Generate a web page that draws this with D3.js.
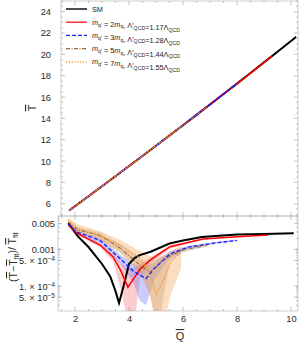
<!DOCTYPE html>
<html>
<head>
<meta charset="utf-8">
<script src="https://cdn.jsdelivr.net/npm/d3@7"></script>
<style>
  body { margin: 0; background: #fff; }
  svg { display: block; font-family: "Liberation Sans", Arial, sans-serif; }
</style>
</head>
<body>
<svg id="chart" width="300" height="345"></svg>
<script>
// ---- data ----
// upper panel: T-bar vs Q-bar (all curves lie on top of each other)
const qTop = [1.78, 2, 2.5, 3, 3.5, 4, 4.5, 5, 5.5, 6, 6.5, 7, 7.5, 8, 8.5, 9, 9.5, 10, 10.2];
const tTop = [5.36, 5.77, 6.70, 7.64, 8.58, 9.53, 10.48, 11.43, 12.39, 13.36, 14.33, 15.30, 16.28, 17.26, 18.25, 19.25, 20.24, 21.25, 21.65];
// where each series stops on the Q axis
const qEnd = [10.2, 9.3, 8.0, 6.9, 5.95];

// legend
const massRatio = ["2", "3", "5", "7"];
const lambdaRatio = ["1.17", "1.28", "1.44", "1.55"];

// lower panel: relative deviation from fit
const qSM = [1.75, 2.1, 2.5, 3.0, 3.3, 3.5, 3.63, 3.8, 4.0, 4.2, 4.4, 4.8, 5.5, 6.0, 6.7, 8.0, 9.0, 10.1];
const rSM = [5.2e-3, 2.3e-3, 1.16e-3, 4.0e-4, 1.87e-4, 7.3e-5, 3.45e-5, 1.0e-4, 4.0e-4, 5.8e-4, 7.0e-4, 8.6e-4, 1.44e-3, 1.74e-3, 2.16e-3, 2.53e-3, 2.64e-3, 2.73e-3];

const q2 = [1.75, 2.07, 2.5, 2.93, 3.41, 3.7, 3.96, 4.2, 4.41, 4.78, 5.52, 6.74, 8.0, 9.15];
const r2 = [4.6e-3, 2.78e-3, 1.9e-3, 1.31e-3, 6.2e-4, 2.6e-4, 9.4e-5, 1.7e-4, 2.9e-4, 5.1e-4, 1.18e-3, 1.91e-3, 2.2e-3, 2.45e-3];
const hi2 = [5.0e-3, 3.1e-3, 2.15e-3, 1.5e-3, 7.5e-4, 4.2e-4, 3.0e-4, 3.2e-4, 4.0e-4, 6.0e-4, 1.3e-3, 1.98e-3, 2.26e-3, 2.5e-3];
const lo2 = [4.2e-3, 2.5e-3, 1.7e-3, 1.12e-3, 4.6e-4, 8e-5, 1e-5, 1e-5, 1.6e-4, 4.0e-4, 1.06e-3, 1.84e-3, 2.14e-3, 2.4e-3];

const q3 = [1.75, 2.05, 2.5, 2.93, 3.67, 4.15, 4.4, 4.63, 4.93, 5.52, 6.2, 7.2, 8.0];
const r3 = [4.9e-3, 3.0e-3, 2.3e-3, 1.75e-3, 5.6e-4, 2.6e-4, 2.0e-4, 1.6e-4, 3.0e-4, 7.5e-4, 1.15e-3, 1.5e-3, 1.75e-3];
const hi3 = [5.4e-3, 3.4e-3, 2.6e-3, 2.1e-3, 7.2e-4, 4.0e-4, 3.4e-4, 3.4e-4, 4.6e-4, 9.0e-4, 1.25e-3, 1.58e-3, 1.82e-3];
const lo3 = [4.4e-3, 2.6e-3, 1.9e-3, 1.45e-3, 4.2e-4, 1.3e-4, 4e-5, 3e-5, 1.5e-4, 6.0e-4, 1.05e-3, 1.42e-3, 1.68e-3];

const q5 = [1.75, 2.1, 2.5, 2.93, 3.67, 4.41, 4.78, 5.0, 5.15, 5.52, 6.0, 6.9];
const r5 = [5.5e-3, 3.4e-3, 2.9e-3, 2.4e-3, 1.08e-3, 3.7e-4, 2.4e-4, 3.2e-4, 4.5e-4, 6.6e-4, 9.6e-4, 1.31e-3];
const hi5 = [6.1e-3, 4.0e-3, 3.4e-3, 2.9e-3, 1.4e-3, 5.2e-4, 3.8e-4, 4.4e-4, 5.8e-4, 8.0e-4, 1.1e-3, 1.42e-3];
const lo5 = [4.9e-3, 2.9e-3, 2.4e-3, 1.95e-3, 8.0e-4, 2.3e-4, 6e-5, 1e-5, 1.5e-5, 5.0e-4, 8.3e-4, 1.2e-3];

const q7 = [1.75, 2.1, 2.5, 2.93, 3.67, 4.41, 4.78, 5.0, 5.3, 5.55, 5.93];
const r7 = [6.3e-3, 3.8e-3, 3.0e-3, 2.3e-3, 1.31e-3, 5.8e-4, 2.3e-4, 5.7e-5, 1.6e-4, 4.6e-4, 8.6e-4];
const hi7 = [7.2e-3, 4.8e-3, 3.9e-3, 3.1e-3, 1.8e-3, 9.0e-4, 6.5e-4, 5.8e-4, 7.0e-4, 9.0e-4, 1.25e-3];
const lo7 = [5.5e-3, 3.0e-3, 2.3e-3, 1.7e-3, 8.5e-4, 2.6e-4, 5e-5, 1e-5, 1e-5, 6e-5, 3.0e-4];

// tick labels
const xTicks = [2, 4, 6, 8, 10];
const yTopTicks = [6, 8, 10, 12, 14, 16, 18, 20, 22, 24];
const yBotTicks = [5e-3, 1e-3, 5e-4, 1e-4, 5e-5];

// ---- styles ----
const colors = ["#000000", "#ff0000", "#1f1fff", "#9a6a3a", "#ff8a1c"];
const bandColors = ["none", "rgba(245,110,120,0.35)", "rgba(110,110,245,0.35)", "rgba(175,150,120,0.35)", "rgba(245,170,100,0.4)"];
const dashes = [null, null, "4,2", "4,1.5,1,1.5", "1.2,1.6"];
const widthsTop = [2, 1.6, 1.6, 1.4, 1.4];
const widthsBot = [2, 1.5, 1.4, 1.1, 1.2];

const topPanel = { left: 61, right: 298, top: 1, bottom: 216 };
const botPanel = { left: 58, right: 298, top: 216, bottom: 311 };

const svg = d3.select("#chart");

const x = d3.scaleLinear().domain([2, 10]).range([75, 291]);
const yTop = d3.scaleLinear().domain([4.85, 25]).range([216, 1]);
const yBot = d3.scaleLog().domain([2.1e-5, 8.1e-3]).range([311, 216]);

const frameColor = "#c4c4c4";
const tickColor = "#9a9a9a";

// clip paths
const defs = svg.append("defs");
defs.append("clipPath").attr("id", "clipTop").append("rect")
  .attr("x", topPanel.left).attr("y", topPanel.top)
  .attr("width", topPanel.right - topPanel.left).attr("height", topPanel.bottom - topPanel.top);
defs.append("clipPath").attr("id", "clipBot").append("rect")
  .attr("x", botPanel.left).attr("y", botPanel.top)
  .attr("width", botPanel.right - botPanel.left).attr("height", botPanel.bottom - botPanel.top);
qEnd.forEach((q, i) => {
  defs.append("clipPath").attr("id", "end" + i).append("rect")
    .attr("x", topPanel.left).attr("y", topPanel.top)
    .attr("width", x(q) - topPanel.left).attr("height", topPanel.bottom - topPanel.top);
});

// inward ticks on every side of a panel
function sideTicks(panel, xVals, xLen, yVals, yScale, yLen) {
  const g = svg.append("g").attr("stroke", tickColor).attr("stroke-width", 0.6);
  xVals.forEach(v => {
    const p = x(v);
    if (p < panel.left || p > panel.right) return;
    g.append("line").attr("x1", p).attr("x2", p).attr("y1", panel.bottom).attr("y2", panel.bottom - xLen);
    g.append("line").attr("x1", p).attr("x2", p).attr("y1", panel.top).attr("y2", panel.top + xLen);
  });
  yVals.forEach(v => {
    const p = yScale(v);
    if (p < panel.top || p > panel.bottom) return;
    g.append("line").attr("x1", panel.left).attr("x2", panel.left + yLen).attr("y1", p).attr("y2", p);
    g.append("line").attr("x1", panel.right).attr("x2", panel.right - yLen).attr("y1", p).attr("y2", p);
  });
}

const xMinor = d3.range(1.5, 10.01, 0.5).filter(v => v % 2 !== 0);
const yTopMinor = d3.range(5, 25.01, 0.5).filter(v => v % 2 !== 0);
const yBotMinor = [];
[1e-5, 1e-4, 1e-3].forEach(d => { for (let k = 1; k <= 9; k++) yBotMinor.push(k * d); });

// frames
[topPanel, botPanel].forEach(p => {
  svg.append("rect")
    .attr("x", p.left).attr("y", p.top)
    .attr("width", p.right - p.left).attr("height", p.bottom - p.top)
    .attr("fill", "none").attr("stroke", frameColor).attr("stroke-width", 0.8);
});

sideTicks(topPanel, xMinor, 2, yTopMinor, yTop, 2);
sideTicks(topPanel, xTicks, 4, yTopTicks, yTop, 4);
sideTicks(botPanel, xMinor, 2, yBotMinor, yBot, 2);
sideTicks(botPanel, xTicks, 4, yBotTicks, yBot, 4);

// ---- upper panel ----
const lineTop = d3.line().x((d, i) => x(qTop[i])).y(d => d);
const topG = svg.append("g").attr("clip-path", "url(#clipTop)");
qEnd.forEach((q, i) => {
  topG.append("g").attr("clip-path", `url(#end${i})`)
    .append("path")
    .datum(tTop.map(t => yTop(t)))
    .attr("fill", "none")
    .attr("stroke", colors[i])
    .attr("stroke-width", widthsTop[i])
    .attr("stroke-dasharray", dashes[i])
    .attr("d", lineTop);
});

// ---- lower panel ----
const botQ = [qSM, q2, q3, q5, q7];
const botR = [rSM, r2, r3, r5, r7];
const botHi = [null, hi2, hi3, hi5, hi7];
const botLo = [null, lo2, lo3, lo5, lo7];

const botG = svg.append("g").attr("clip-path", "url(#clipBot)");

botQ.forEach((qs, i) => {
  if (!botHi[i]) return;
  const band = qs.map((q, k) => ({ q: q, lo: botLo[i][k], hi: botHi[i][k] }));
  botG.append("path")
    .datum(band)
    .attr("fill", bandColors[i])
    .attr("stroke", "none")
    .attr("d", d3.area()
      .x(d => x(d.q))
      .y0(d => yBot(d.lo))
      .y1(d => yBot(d.hi)));
});

botQ.forEach((qs, i) => {
  const pts = qs.map((q, k) => ({ q: q, r: botR[i][k] }));
  botG.append("path")
    .datum(pts)
    .attr("fill", "none")
    .attr("stroke", colors[i])
    .attr("stroke-width", widthsBot[i])
    .attr("stroke-dasharray", dashes[i])
    .attr("stroke-linejoin", "miter")
    .attr("d", d3.line().x(d => x(d.q)).y(d => yBot(d.r)));
});

// ---- axes with labels ----
const labelColor = "#2a2a2a";
const fs = 9.3;

const axTop = svg.append("g")
  .attr("transform", `translate(${topPanel.left},0)`)
  .call(d3.axisLeft(yTop).tickValues(yTopTicks).tickSize(0).tickPadding(10));
axTop.select(".domain").remove();
axTop.selectAll("text").attr("fill", labelColor).style("font-size", fs + "px").style("font-family", "Liberation Sans, Arial, sans-serif");

const axBotY = svg.append("g")
  .attr("transform", `translate(${botPanel.left},0)`)
  .call(d3.axisLeft(yBot).tickValues(yBotTicks).tickSize(0).tickPadding(3).tickFormat(""));
axBotY.select(".domain").remove();
axBotY.selectAll(".tick text").each(function (d) {
  const t = d3.select(this)
    .attr("fill", labelColor)
    .style("font-size", fs + "px")
    .style("font-family", "Liberation Sans, Arial, sans-serif");
  const e = Math.floor(Math.log10(d) + 1e-9);
  const m = Math.round(d / Math.pow(10, e));
  if (e >= -3) {
    t.text(d3.format(".3~f")(d));
  } else {
    t.text(null);
    t.append("tspan").text(`${m}. \u00d7 10`);
    t.append("tspan").attr("dy", "-0.45em").style("font-size", "6.5px").text("\u2212" + (-e));
  }
});

const axX = svg.append("g")
  .attr("transform", `translate(0,${botPanel.bottom})`)
  .call(d3.axisBottom(x).tickValues(xTicks).tickSize(0).tickPadding(4));
axX.select(".domain").remove();
axX.selectAll("text").attr("fill", labelColor).style("font-size", fs + "px").style("font-family", "Liberation Sans, Arial, sans-serif");

// axis titles
svg.append("text")
  .attr("transform", "translate(36,108) rotate(-90)")
  .attr("text-anchor", "middle")
  .attr("fill", labelColor)
  .style("font-size", "11px")
  .append("tspan").style("text-decoration", "overline").text("T");

svg.append("text")
  .attr("x", 180).attr("y", 340)
  .attr("text-anchor", "middle")
  .attr("fill", labelColor)
  .style("font-size", "11px")
  .append("tspan").style("text-decoration", "overline").text("Q");

const yl = svg.append("text")
  .attr("transform", "translate(17,257) rotate(-90)")
  .attr("text-anchor", "middle")
  .attr("fill", labelColor)
  .style("font-size", "10.5px");
yl.append("tspan").text("(");
yl.append("tspan").style("text-decoration", "overline").text("T");
yl.append("tspan").text("\u2212");
yl.append("tspan").style("text-decoration", "overline").text("T");
yl.append("tspan").attr("dy", "0.3em").style("font-size", "7.5px").text("fit");
yl.append("tspan").attr("dy", "-0.3em").text(")/ ");
yl.append("tspan").style("text-decoration", "overline").text("T");
yl.append("tspan").attr("dy", "0.3em").style("font-size", "7.5px").text("fit");

// ---- legend ----
const legend = svg.append("g");
const legY = i => 9 + i * 13.2;
colors.forEach((c, i) => {
  legend.append("line")
    .attr("x1", 66).attr("x2", 87)
    .attr("y1", legY(i)).attr("y2", legY(i))
    .attr("stroke", c)
    .attr("stroke-width", i === 0 ? 1.4 : 1.2)
    .attr("stroke-dasharray", dashes[i]);
  const t = legend.append("text")
    .attr("x", 92).attr("y", legY(i)).attr("dy", "0.35em")
    .attr("fill", "#222")
    .style("font-size", "7.3px");
  if (i === 0) { t.text("SM"); return; }
  const sub = (s) => {
    t.append("tspan").attr("dy", "0.35em").style("font-size", "5.2px").text(s);
    t.append("tspan").attr("dy", "-0.35em").text("");
  };
  t.append("tspan").style("font-style", "italic").text("m");
  sub("q\u2032");
  t.append("tspan").text(` = ${massRatio[i - 1]}`);
  t.append("tspan").style("font-style", "italic").text("m");
  sub("q");
  t.append("tspan").text(", \u039b\u2032");
  sub("QCD");
  t.append("tspan").text(`=${lambdaRatio[i - 1]}\u039b`);
  sub("QCD");
});
</script>
</body>
</html>
